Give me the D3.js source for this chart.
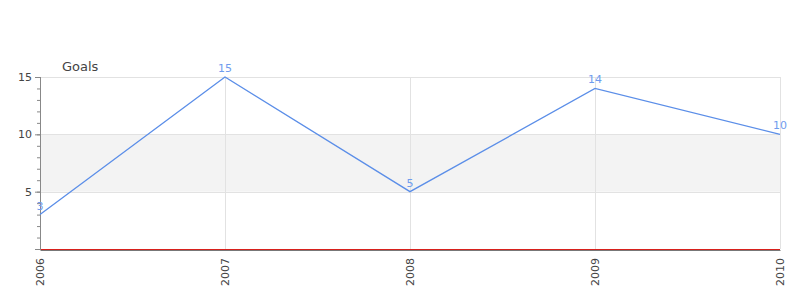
<!DOCTYPE html>
<html>
<head>
<meta charset="utf-8">
<script src="https://cdn.jsdelivr.net/npm/d3@7"></script>
<style>
  body { margin: 0; background: #fff; }
  text { font-family: "DejaVu Sans", sans-serif; }
</style>
</head>
<body>
<div id="chart"></div>
<script>
// data
var years = ["2006", "2007", "2008", "2009", "2010"];
var goals = [3, 15, 5, 14, 10];
var majorTicks = [5, 10, 15];
var seriesName = "Goals";

var svgWidth = 800, svgHeight = 300;
var margin = { top: 77, right: 20, bottom: 51, left: 40 };
var chartWidth = svgWidth - margin.left - margin.right;
var chartHeight = svgHeight - margin.top - margin.bottom;

var svg = d3.select("#chart").append("svg")
    .attr("width", svgWidth)
    .attr("height", svgHeight);

var chartGroup = svg.append("g")
    .attr("transform", `translate(${margin.left},${margin.top})`);

var xScale = d3.scalePoint().domain(years).range([0, chartWidth]);
var yScale = d3.scaleLinear().domain([0, 15]).range([chartHeight, 0]);

// shaded band between 5 and 10
chartGroup.append("rect")
    .attr("x", 0)
    .attr("width", chartWidth)
    .attr("y", yScale(10))
    .attr("height", yScale(5) - yScale(10))
    .attr("fill", "#f3f3f3");

// grid lines
chartGroup.append("g")
    .selectAll("line")
    .data(majorTicks)
    .enter()
    .append("line")
        .attr("x1", 0).attr("x2", chartWidth)
        .attr("y1", d => Math.round(yScale(d)) + 0.5)
        .attr("y2", d => Math.round(yScale(d)) + 0.5)
        .attr("stroke", "#e2e2e2");

chartGroup.append("g")
    .selectAll("line")
    .data(years.slice(1))
    .enter()
    .append("line")
        .attr("x1", d => Math.round(xScale(d)) + 0.5)
        .attr("x2", d => Math.round(xScale(d)) + 0.5)
        .attr("y1", 0).attr("y2", chartHeight)
        .attr("stroke", "#e2e2e2");

// y axis: minor ticks every unit, major every 5
var yMinor = d3.axisLeft(yScale).tickValues(d3.range(0, 16)).tickSize(3).tickFormat("");
var yMajor = d3.axisLeft(yScale).tickValues([0].concat(majorTicks)).tickSize(5).tickPadding(3)
    .tickFormat(d => d === 0 ? "" : d);

var gMinor = chartGroup.append("g").call(yMinor);
var gMajor = chartGroup.append("g").call(yMajor);
[gMinor, gMajor].forEach(function(g) {
    g.select(".domain").attr("stroke", "#888").attr("d", `M0.5,0V${chartHeight + 1}`);
    g.selectAll(".tick line").attr("stroke", "#888");
});
gMajor.selectAll(".tick text")
    .attr("fill", "#444")
    .style("font-size", "11px");

// x axis
var xAxis = d3.axisBottom(xScale).tickSize(0).tickPadding(8);
var gx = chartGroup.append("g")
    .attr("transform", `translate(0,${chartHeight + 1})`)
    .call(xAxis);
gx.select(".domain").attr("stroke", "#777").attr("stroke-width", 1);
gx.selectAll(".tick text")
    .attr("fill", "#444")
    .style("font-size", "11px")
    .attr("text-anchor", "end")
    .attr("transform", "rotate(-90)")
    .attr("x", -8)
    .attr("y", 0)
    .attr("dy", "0.35em");

// zero line
chartGroup.append("line")
    .attr("x1", 1).attr("x2", chartWidth)
    .attr("y1", yScale(0) + 0.5).attr("y2", yScale(0) + 0.5)
    .attr("stroke", "#d8201c")
    .attr("stroke-width", 1);

// series line
var line = d3.line()
    .x((d, i) => xScale(years[i]))
    .y(d => yScale(d));

chartGroup.append("path")
    .datum(goals)
    .attr("d", line)
    .attr("fill", "none")
    .attr("stroke", "#5b8ee8")
    .attr("stroke-width", 1.3);

// value labels
chartGroup.append("g")
    .selectAll("text")
    .data(goals)
    .enter()
    .append("text")
        .attr("x", (d, i) => xScale(years[i]))
        .attr("y", d => yScale(d) - 5)
        .attr("text-anchor", "middle")
        .attr("fill", "#6f9cee")
        .style("font-size", "11px")
        .text(d => d);

// series title
svg.append("text")
    .attr("x", 62)
    .attr("y", 71)
    .attr("fill", "#444")
    .style("font-size", "13px")
    .text(seriesName);
</script>
</body>
</html>
